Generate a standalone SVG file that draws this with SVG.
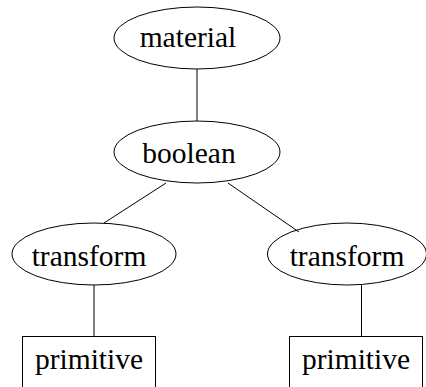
<svg xmlns="http://www.w3.org/2000/svg" width="426" height="387" viewBox="0 0 426 387">
<style>
.n{fill:none;stroke:#000;stroke-width:1}
.e{stroke:#000;stroke-width:1;fill:none}
text{font-family:"Liberation Serif","Times New Roman",serif;font-size:29.5px;text-anchor:middle;fill:#000}
</style>
<rect width="426" height="387" fill="#fff"/>
<g id="edges">
<line class="e" x1="197" y1="69" x2="197" y2="121"/>
<line class="e" x1="166" y1="183" x2="104" y2="223"/>
<line class="e" x1="228" y1="183" x2="299" y2="232"/>
<line class="e" x1="94" y1="285" x2="94" y2="336.5"/>
<line class="e" x1="361.5" y1="284.5" x2="361.5" y2="336.5"/>
</g>
<g id="material">
<ellipse class="n" cx="197" cy="38" rx="83" ry="31"/>
<text x="188" y="47">material</text>
</g>
<g id="boolean">
<ellipse class="n" cx="197" cy="152" rx="83" ry="31"/>
<text x="189" y="163">boolean</text>
</g>
<g id="transform1">
<ellipse class="n" cx="94" cy="254" rx="82" ry="31"/>
<text x="89" y="266">transform</text>
</g>
<g id="transform2">
<ellipse class="n" cx="347" cy="254" rx="79.5" ry="31"/>
<text x="347" y="266">transform</text>
</g>
<g id="primitive1">
<rect class="n" x="22.5" y="336.5" width="133" height="60"/>
<text x="89" y="369">primitive</text>
</g>
<g id="primitive2">
<rect class="n" x="289.5" y="336.5" width="133" height="60"/>
<text x="356" y="369">primitive</text>
</g>
</svg>
